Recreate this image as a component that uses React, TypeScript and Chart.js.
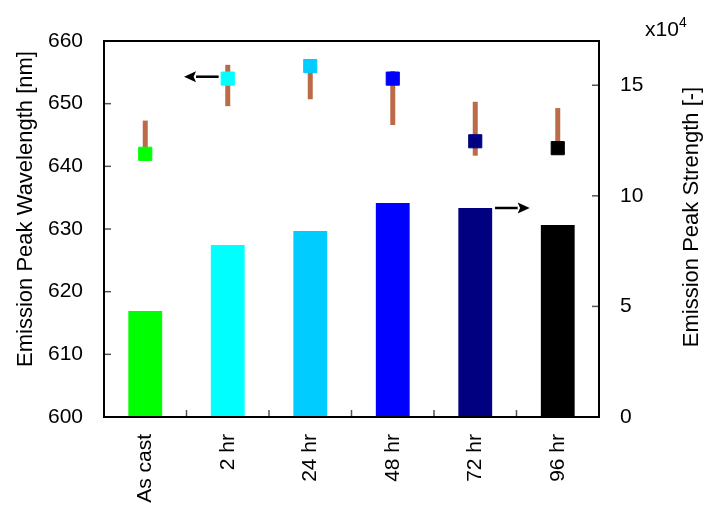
import React, { useEffect, useRef } from "react";
import { Chart, registerables } from "chart.js";

Chart.register(...registerables);

const categories = ["As cast", "2 hr", "24 hr", "48 hr", "72 hr", "96 hr"];
const wavelength = [642.0, 654.0, 656.0, 654.0, 644.0, 642.9];
const errHigh = [647.3, 656.2, 656.0, 655.2, 650.3, 649.3];
const errLow = [642.0, 649.6, 650.7, 646.6, 641.7, 642.9];
const strength = [4.79, 7.78, 8.41, 9.67, 9.45, 8.68];
const colors = ["#00ff00", "#00ffff", "#00ccff", "#0000ff", "#000080", "#000000"];

const leftTicks = [600, 610, 620, 630, 640, 650, 660];
const rightTicks = [0, 5, 10, 15];

// annotation arrows in data units
const leftArrow = { value: 654.3, from: 0.89, to: 0.47 };
const rightArrow = { value: 9.45, from: 4.24, to: 4.66 };

const FONT = "'Liberation Sans', Arial, sans-serif";
const ERR_COLOR = "#bb6b47";

function drawArrow(ctx: CanvasRenderingContext2D, x0: number, x1: number, y: number) {
  const dir = x1 > x0 ? 1 : -1;
  const head = 12;
  const half = 5.5;
  ctx.save();
  ctx.strokeStyle = "#000";
  ctx.fillStyle = "#000";
  ctx.lineWidth = 2.5;
  ctx.beginPath();
  ctx.moveTo(x0, y);
  ctx.lineTo(x1 - dir * head, y);
  ctx.stroke();
  ctx.beginPath();
  ctx.moveTo(x1, y);
  ctx.lineTo(x1 - dir * head, y - half);
  ctx.lineTo(x1 - dir * head * 0.8, y);
  ctx.lineTo(x1 - dir * head, y + half);
  ctx.closePath();
  ctx.fill();
  ctx.restore();
}

const overlay = {
  id: "overlay",
  beforeDatasetDraw(chart: any, args: any) {
    if (args.index !== 0) return;
    const { ctx } = chart;
    const x = chart.scales.x;
    const y = chart.scales.y;
    ctx.save();
    ctx.strokeStyle = ERR_COLOR;
    ctx.lineWidth = 5;
    categories.forEach((_, i) => {
      const px = x.getPixelForValue(i);
      ctx.beginPath();
      ctx.moveTo(px, y.getPixelForValue(errLow[i]));
      ctx.lineTo(px, y.getPixelForValue(errHigh[i]));
      ctx.stroke();
    });
    ctx.restore();
  },
  afterDatasetsDraw(chart: any) {
    const { ctx, chartArea } = chart;
    const x = chart.scales.x;
    const y = chart.scales.y;
    const y1 = chart.scales.y1;
    const { left, right, top, bottom } = chartArea;
    ctx.save();
    // inward tick marks
    ctx.strokeStyle = "#555";
    ctx.lineWidth = 1.5;
    leftTicks.forEach((v) => {
      const py = y.getPixelForValue(v);
      ctx.beginPath();
      ctx.moveTo(left, py);
      ctx.lineTo(left + 7, py);
      ctx.stroke();
    });
    rightTicks.forEach((v) => {
      const py = y1.getPixelForValue(v);
      ctx.beginPath();
      ctx.moveTo(right, py);
      ctx.lineTo(right - 7, py);
      ctx.stroke();
    });
    for (let i = 0; i < categories.length - 1; i++) {
      const px = (x.getPixelForValue(i) + x.getPixelForValue(i + 1)) / 2;
      ctx.beginPath();
      ctx.moveTo(px, bottom);
      ctx.lineTo(px, bottom - 7);
      ctx.stroke();
    }
    // frame
    ctx.strokeStyle = "#000";
    ctx.lineWidth = 2;
    ctx.strokeRect(left, top, right - left, bottom - top);
    ctx.restore();

    // arrows
    drawArrow(ctx, x.getPixelForValue(leftArrow.from), x.getPixelForValue(leftArrow.to), y.getPixelForValue(leftArrow.value));
    drawArrow(ctx, x.getPixelForValue(rightArrow.from), x.getPixelForValue(rightArrow.to), y1.getPixelForValue(rightArrow.value));

    // axis titles
    ctx.save();
    ctx.fillStyle = "#000";
    ctx.font = `22px ${FONT}`;
    ctx.textAlign = "center";
    ctx.textBaseline = "alphabetic";
    const midY = (top + bottom) / 2;
    ctx.save();
    ctx.translate(left - 72, midY - 20);
    ctx.rotate(-Math.PI / 2);
    ctx.fillText("Emission Peak Wavelength [nm]", 0, 0);
    ctx.restore();
    ctx.save();
    ctx.translate(right + 99, midY - 12);
    ctx.rotate(-Math.PI / 2);
    ctx.fillText("Emission Peak Strength [-]", 0, 0);
    ctx.restore();
    // multiplier
    ctx.textAlign = "left";
    ctx.font = `21px ${FONT}`;
    ctx.fillText("x10", right + 46, top - 5);
    ctx.font = `14px ${FONT}`;
    ctx.fillText("4", right + 80, top - 14);
    ctx.restore();
  },
};

export default function App() {
  const ref = useRef<HTMLCanvasElement | null>(null);
  useEffect(() => {
    if (!ref.current) return;
    const chart = new Chart(ref.current, {
      data: {
        labels: categories,
        datasets: [
          {
            type: "line",
            label: "Emission Peak Wavelength",
            data: wavelength,
            yAxisID: "y",
            showLine: false,
            pointStyle: "rect",
            pointRadius: 9.3,
            pointHoverRadius: 9.3,
            pointBackgroundColor: colors,
            pointBorderColor: colors,
            pointBorderWidth: 1,
            order: 1,
          },
          {
            type: "bar",
            label: "Emission Peak Strength",
            data: strength,
            yAxisID: "y1",
            backgroundColor: colors,
            borderWidth: 0,
            categoryPercentage: 1,
            barPercentage: 0.41,
            order: 2,
          },
        ],
      } as any,
      options: {
        responsive: false,
        animation: false,
        layout: { padding: { top: 41, left: 0, right: 0, bottom: 0 } },
        plugins: { legend: { display: false }, tooltip: { enabled: false }, title: { display: false } },
        scales: {
          x: {
            type: "category",
            offset: true,
            grid: { display: false, drawTicks: false },
            border: { display: false },
            ticks: {
              color: "#000",
              font: { size: 21, family: FONT },
              minRotation: 90,
              maxRotation: 90,
              padding: 17,
              autoSkip: false,
            },
            afterFit: (s: any) => {
              s.height = 93;
            },
          },
          y: {
            type: "linear",
            position: "left",
            min: 600,
            max: 660,
            grid: { display: false, drawTicks: false },
            border: { display: false },
            ticks: { stepSize: 10, color: "#000", font: { size: 21, family: FONT }, padding: 21 },
            afterFit: (s: any) => {
              s.width = 104;
            },
          },
          y1: {
            type: "linear",
            position: "right",
            min: 0,
            max: 17,
            grid: { display: false, drawTicks: false },
            border: { display: false },
            ticks: {
              stepSize: 5,
              includeBounds: false,
              color: "#000",
              font: { size: 21, family: FONT },
              padding: 21,
            },
            afterFit: (s: any) => {
              s.width = 108;
            },
          },
        },
      } as any,
      plugins: [overlay],
    });
    return () => chart.destroy();
  }, []);
  return (
    <div style={{ position: "absolute", left: 0, top: 0, width: 707, height: 510, background: "#fff" }}>
      <canvas ref={ref} width={707} height={510} />
    </div>
  );
}
